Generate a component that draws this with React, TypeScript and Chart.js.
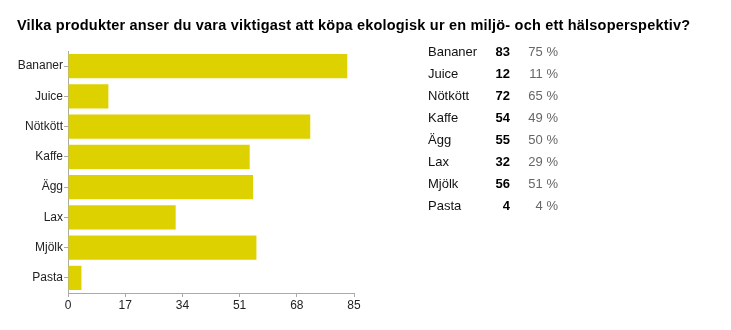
import React, { useEffect, useRef } from "react";
import { Chart, registerables } from "chart.js";

Chart.register(...registerables);

const TITLE = "Vilka produkter anser du vara viktigast att köpa ekologisk ur en miljö- och ett hälsoperspektiv?";
const categories = ["Bananer", "Juice", "Nötkött", "Kaffe", "Ägg", "Lax", "Mjölk", "Pasta"];
const counts = [83, 12, 72, 54, 55, 32, 56, 4];
const percents = ["75 %", "11 %", "65 %", "49 %", "50 %", "29 %", "51 %", "4 %"];
const xTicks = [0, 17, 34, 51, 68, 85];

const FONT = "'Liberation Sans', Arial, Helvetica, sans-serif";

export default function App() {
  const ref = useRef<HTMLCanvasElement | null>(null);

  useEffect(() => {
    if (!ref.current) return;
    const chart = new Chart(ref.current, {
      type: "bar",
      data: {
        labels: categories,
        datasets: [
          {
            data: counts,
            backgroundColor: "#DDD200",
            borderWidth: 0,
            barPercentage: 0.8,
            categoryPercentage: 1,
          },
        ],
      },
      options: {
        indexAxis: "y",
        responsive: false,
        animation: false,
        layout: { padding: { left: 0, top: 51, right: 377, bottom: 0 } },
        plugins: { legend: { display: false }, tooltip: { enabled: false }, title: { display: false } },
        scales: {
          x: {
            min: xTicks[0],
            max: xTicks[xTicks.length - 1],
            afterBuildTicks: (scale: any) => {
              scale.ticks = xTicks.map((v) => ({ value: v }));
            },
            afterFit: (scale: any) => {
              scale.height = 37;
            },
            grid: { drawOnChartArea: false, drawTicks: true, tickLength: 4, color: "#aaaaaa" },
            border: { color: "#aaaaaa", width: 1 },
            ticks: { color: "#222222", font: { family: FONT, size: 12 }, padding: 1, maxRotation: 0 },
          },
          y: {
            afterFit: (scale: any) => {
              scale.width = 68;
            },
            grid: { drawOnChartArea: false, drawTicks: true, tickLength: 4, color: "#aaaaaa", offset: false },
            border: { color: "#aaaaaa", width: 1 },
            ticks: { color: "#222222", font: { family: FONT, size: 12 }, padding: 1 },
          },
        },
      },
    });
    return () => chart.destroy();
  }, []);

  return (
    <div style={{ position: "absolute", left: 0, top: 0, width: 731, height: 330, background: "#fff", fontFamily: FONT }}>
      <canvas ref={ref} width={731} height={330} style={{ position: "absolute", left: 0, top: 0 }} />
      <div
        style={{
          position: "absolute",
          left: 17,
          top: 17,
          fontSize: 14.5,
          letterSpacing: "0.2px",
          lineHeight: "17px",
          fontWeight: "bold",
          color: "#000",
          whiteSpace: "nowrap",
        }}
      >
        {TITLE}
      </div>
      {categories.map((c, i) => (
        <div
          key={c}
          style={{
            position: "absolute",
            left: 0,
            top: 41.4 + i * 21.9,
            height: 21.9,
            lineHeight: "21.9px",
            fontSize: 13,
            width: 731,
          }}
        >
          <span style={{ position: "absolute", left: 428, color: "#111" }}>{c}</span>
          <span style={{ position: "absolute", right: 731 - 510, fontWeight: "bold", color: "#000" }}>{counts[i]}</span>
          <span style={{ position: "absolute", right: 731 - 558, color: "#666" }}>{percents[i]}</span>
        </div>
      ))}
    </div>
  );
}
